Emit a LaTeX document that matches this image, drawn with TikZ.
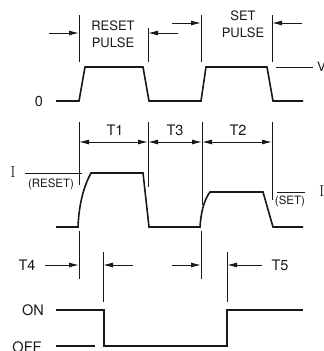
\documentclass[tikz,border=0pt]{standalone}
\usepackage{fontspec}
\setmainfont{TeX Gyre Heros}
\newfontfamily\serifI{Latin Modern Roman}
\usetikzlibrary{arrows.meta,positioning}
\begin{document}
\begin{tikzpicture}[x=1pt,y=1pt]
\tikzstyle{wave}=[line width=1.6pt, line join=miter, draw=black!90]
\tikzstyle{ext}=[line width=1pt, draw=black!90]
\tikzstyle{dim}=[line width=1pt, draw=black!90, -{Latex[length=10pt,width=5pt]}]
\tikzstyle{dimboth}=[line width=1pt, draw=black!90, {Latex[length=10pt,width=5pt]}-{Latex[length=10pt,width=5pt]}]
\tikzstyle{lbl}=[inner sep=0pt, text=black!90, font=\fontsize{13}{17}\selectfont, align=center]
\tikzstyle{tlbl}=[inner sep=0pt, text=black!90, font=\fontsize{14.5}{17}\selectfont]
\tikzstyle{small}=[inner sep=0pt, text=black!90, font=\fontsize{11.5}{12}\selectfont]
\tikzstyle{bigI}=[inner sep=0pt, text=black!90, font=\serifI\fontsize{16}{16}\selectfont]
\useasboundingbox (0,0) rectangle (324,-351);

% applied voltage
\node[tlbl] (zero) at (39,-101) {0};
\node[lbl] (volt) at (317,-67) [anchor=west] {V};
\node[lbl] (resetp) at (113,-34) {RESET\\PULSE};
\node[lbl] (setp) at (243,-24) {SET\\PULSE};
\draw[wave] (56,-101) -- (79,-101) -- (85,-67) -- (143,-67) -- (149,-101) -- (201,-101)
	-- (206,-67) -- (267,-67) -- (273,-101) -- (303,-101);
\coordinate (vl) at (276,-67);
\coordinate (vr) at (313,-67);
\draw[ext] (vl) -- (vr);

\coordinate (ra) at (79,-15);  \coordinate (rb) at (79,-62);
\coordinate (rc) at (148,-28); \coordinate (rd) at (148,-62);
\coordinate (sa) at (201,-15); \coordinate (sb) at (201,-62);
\coordinate (sc) at (272,-15); \coordinate (sd) at (272,-62);
\coordinate (ra0) at (49,-33);  \coordinate (ra1) at (79,-33);
\coordinate (rc0) at (178,-33); \coordinate (rc1) at (148,-33);
\coordinate (sa0) at (172,-23); \coordinate (sa1) at (201,-23);
\coordinate (sc0) at (302,-23); \coordinate (sc1) at (272,-23);
\path
	(ra) edge[ext] (rb)
	(rc) edge[ext] (rd)
	(sa) edge[ext] (sb)
	(sc) edge[ext] (sd);
\draw[dim] (ra0) -- (ra1);
\draw[dim] (rc0) -- (rc1);
\draw[dim] (sa0) -- (sa1);
\draw[dim] (sc0) -- (sc1);

% cell current
\node[tlbl] (tone) at (115,-130) {T1};
\node[tlbl] (tthree) at (175,-130) {T3};
\node[tlbl] (ttwo) at (238,-130) {T2};
\coordinate (ia) at (79,-122);  \coordinate (ib) at (79,-185);
\coordinate (ic) at (148,-122); \coordinate (id) at (148,-187);
\coordinate (ie) at (202,-122); \coordinate (if) at (202,-205);
\coordinate (ig) at (272,-122); \coordinate (ih) at (272,-200);
\path
	(ia) edge[ext] (ib)
	(ic) edge[ext] (id)
	(ie) edge[ext] (if)
	(ig) edge[ext] (ih);
\coordinate (d1) at (79,-142);
\coordinate (d2) at (148,-142);
\coordinate (d3) at (202,-142);
\coordinate (d4) at (272,-142);
\draw[dimboth] (d1) -- (d2);
\draw[dimboth] (d2) -- (d3);
\draw[dimboth] (d3) -- (d4);
\draw[wave] (56,-227) -- (78,-227) .. controls (79,-203) and (84,-186) .. (91,-173) -- (143,-173)
	-- (149,-227) -- (200,-227) .. controls (201,-212) and (204,-200) .. (210,-192) -- (263,-192)
	-- (273,-227) -- (303,-227);
\node[bigI] (ireset) at (13,-172) {I};
\node[small] (reset) at (51,-184) {(RESET)};
\coordinate (ol) at (25,-173);
\coordinate (or) at (82,-173);
\draw[ext] (ol) -- (or);
\node[small] (set) at (290,-201) {(SET)};
\node[bigI] (iset) at (319,-191) [anchor=west] {I};
\coordinate (sl) at (277,-192);
\coordinate (sr) at (305,-192);
\draw[ext] (sl) -- (sr);

% switch state
\node[tlbl] (tfour) at (27,-265) {T4};
\node[tlbl] (tfive) at (280,-265) {T5};
\coordinate (ta) at (79,-231);  \coordinate (tb) at (79,-279);
\coordinate (tc) at (103,-252); \coordinate (td) at (103,-302);
\coordinate (te) at (201,-231); \coordinate (tf) at (201,-279);
\coordinate (tg) at (227,-252); \coordinate (th) at (227,-302);
\coordinate (ta0) at (45,-265);  \coordinate (ta1) at (79,-265);
\coordinate (tc0) at (133,-265); \coordinate (tc1) at (103,-265);
\coordinate (te0) at (172,-265); \coordinate (te1) at (201,-265);
\coordinate (tg0) at (262,-265); \coordinate (tg1) at (227,-265);
\path
	(ta) edge[ext] (tb)
	(tc) edge[ext] (td)
	(te) edge[ext] (tf)
	(tg) edge[ext] (th);
\draw[dim] (ta0) -- (ta1);
\draw[dim] (tc0) -- (tc1);
\draw[dim] (te0) -- (te1);
\draw[dim] (tg0) -- (tg1);
\node[tlbl] (on) at (33,-310) {ON};
\node[tlbl] (off) at (27,-347) {OFF};
\draw[wave] (56,-310) -- (104,-310) -- (104,-346) -- (227,-346) -- (227,-310) -- (303,-310);
\coordinate (fl) at (56,-346);
\coordinate (fr) at (95,-346);
\draw[wave] (fl) -- (fr);

\end{tikzpicture}
\end{document}
